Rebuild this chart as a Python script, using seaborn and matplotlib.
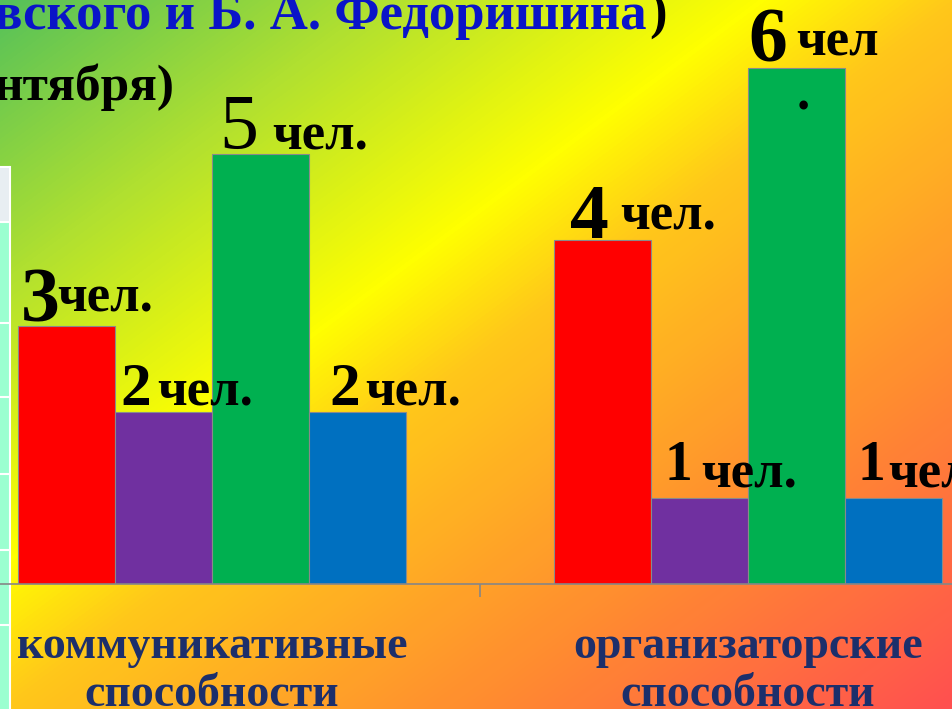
import numpy as np
import pandas as pd
import matplotlib
matplotlib.use("Agg")
import matplotlib.pyplot as plt
from matplotlib.colors import LinearSegmentedColormap
from matplotlib.patches import Rectangle
import seaborn as sns

# Data
categories = ["коммуникативные\nспособности", "организаторские\nспособности"]
series_names = ["Ряд 1", "Ряд 2", "Ряд 3", "Ряд 4"]
series1_values = [3, 4]
series2_values = [2, 1]
series3_values = [5, 6]
series4_values = [2, 1]
unit_labels = ["чел.", "чел.", "чел.", "чел.", "чел.", "чел", "чел.", "чел."]

bar_colors = ["#FF0000", "#7030A0", "#00B050", "#0070C0"]

rows = []
for name, vals in zip(series_names, [series1_values, series2_values, series3_values, series4_values]):
    for cat, v in zip(categories, vals):
        rows.append({"category": cat, "series": name, "value": v})
df = pd.DataFrame(rows)

# label layout, pixels from bar top-left: (num dx, num dy, num size, num weight, unit dx, unit dy)
label_layout = [
    (3, 4, 56, "bold", 40, 14), (16, 2, 56, "bold", 67, 10),
    (6, 7, 44, "bold", 42, 7), (14, 18, 40, "bold", 50, 11),
    (7, 6, 56, "normal", 60, 4), (0, 6, 56, "bold", 48, 13),
    (20, 7, 44, "bold", 56, 7), (12, 18, 40, "bold", 43, 11),
]

W, H = 952, 709
fig = plt.figure(figsize=(W / 100, H / 100), dpi=100)

# gradient background
bg = fig.add_axes([0, 0, 1, 1])
cmap = LinearSegmentedColormap.from_list("bg", [
    (0.0, "#55C15A"), (0.2, "#B0E030"), (0.4, "#FFFF00"),
    (0.5, "#FFC81A"), (0.75, "#FF8C30"), (1.0, "#FF5050")])
xx, yy = np.meshgrid(np.linspace(0, 1, W), np.linspace(0, 1, H))
bg.imshow((xx + yy) / 2, cmap=cmap, extent=(0, W, H, 0), aspect="auto", vmin=0, vmax=1)
bg.set_xlim(0, W)
bg.set_ylim(H, 0)
bg.axis("off")

# left strip (piece of another object cut off by the crop)
bg.add_patch(Rectangle((0, 167), 9, H - 167, color="#9BFFD0", lw=0))
bg.add_patch(Rectangle((0, 167), 9, 55, color="#E8EEF2", lw=0))
for yl in [167, 222, 323, 397, 474, 550, 625]:
    bg.plot([0, 9], [yl, yl], color="white", lw=1.5)
bg.plot([9.5, 9.5], [167, H], color="white", lw=1.5)

# main chart axes, partly outside the crop
ax = fig.add_axes([-56 / W, 125 / H, 1072 / W, 602 / H])
ax.patch.set_alpha(0)
sns.barplot(data=df, x="category", y="value", hue="series", palette=bar_colors,
            width=0.725, saturation=1, edgecolor="#8a8a8a", linewidth=0.8,
            legend=False, ax=ax)
ax.set_xlim(-0.5, 1.5)
ax.set_ylim(0, 7)
for s in ["top", "left", "right"]:
    ax.spines[s].set_visible(False)
ax.spines["bottom"].set_color("#868686")
ax.spines["bottom"].set_linewidth(1.2)
ax.set_yticks([])
ax.set_xlabel("")
ax.set_ylabel("")
ax.set_xticks([-0.5, 0.5, 1.5], minor=True)
ax.tick_params(axis="x", which="minor", length=9, color="#868686", width=1.2)
ax.tick_params(axis="x", which="major", length=0, pad=30)
ax.set_xticks([0, 1])
ax.set_xticklabels(categories, fontsize=33, fontweight="bold", color="#1C2F6B",
                   family="Liberation Serif", linespacing=1.2)

# value labels
values_in_order = series1_values + series2_values + series3_values + series4_values
i = 0
for cont in ax.containers:
    for bar in cont:
        ndx, ndy, nsize, nweight, udx, udy = label_layout[i]
        x0 = bar.get_x()
        top = bar.get_height()
        ax.annotate(f"{values_in_order[i]}", (x0, top), xytext=(ndx, ndy),
                    textcoords="offset pixels", ha="left", va="baseline",
                    fontsize=nsize, fontweight=nweight, family="Liberation Serif")
        ax.annotate(unit_labels[i], (x0, top), xytext=(udx, udy),
                    textcoords="offset pixels", ha="left", va="baseline",
                    fontsize=38, fontweight="bold", family="Liberation Serif")
        if unit_labels[i] == "чел":
            ax.annotate(".", (x0, top), xytext=(49, -42), textcoords="offset pixels",
                        ha="left", va="baseline", fontsize=38, fontweight="bold",
                        family="Liberation Serif")
        i += 1

# cut-off title lines
fig.text(646 / W, 1 - 29 / H, "вского и Б. А. Федоришина", ha="right", va="baseline",
         fontsize=38, fontweight="bold", color="#0A14C8", family="Liberation Serif")
fig.text(667 / W, 1 - 29 / H, ")", ha="right", va="baseline",
         fontsize=38, fontweight="bold", color="black", family="Liberation Serif")
fig.text(175 / W, 1 - 100 / H, "нтября)", ha="right", va="baseline",
         fontsize=37, fontweight="bold", color="black", family="Liberation Serif")

fig.savefig("out.png", dpi=100)
